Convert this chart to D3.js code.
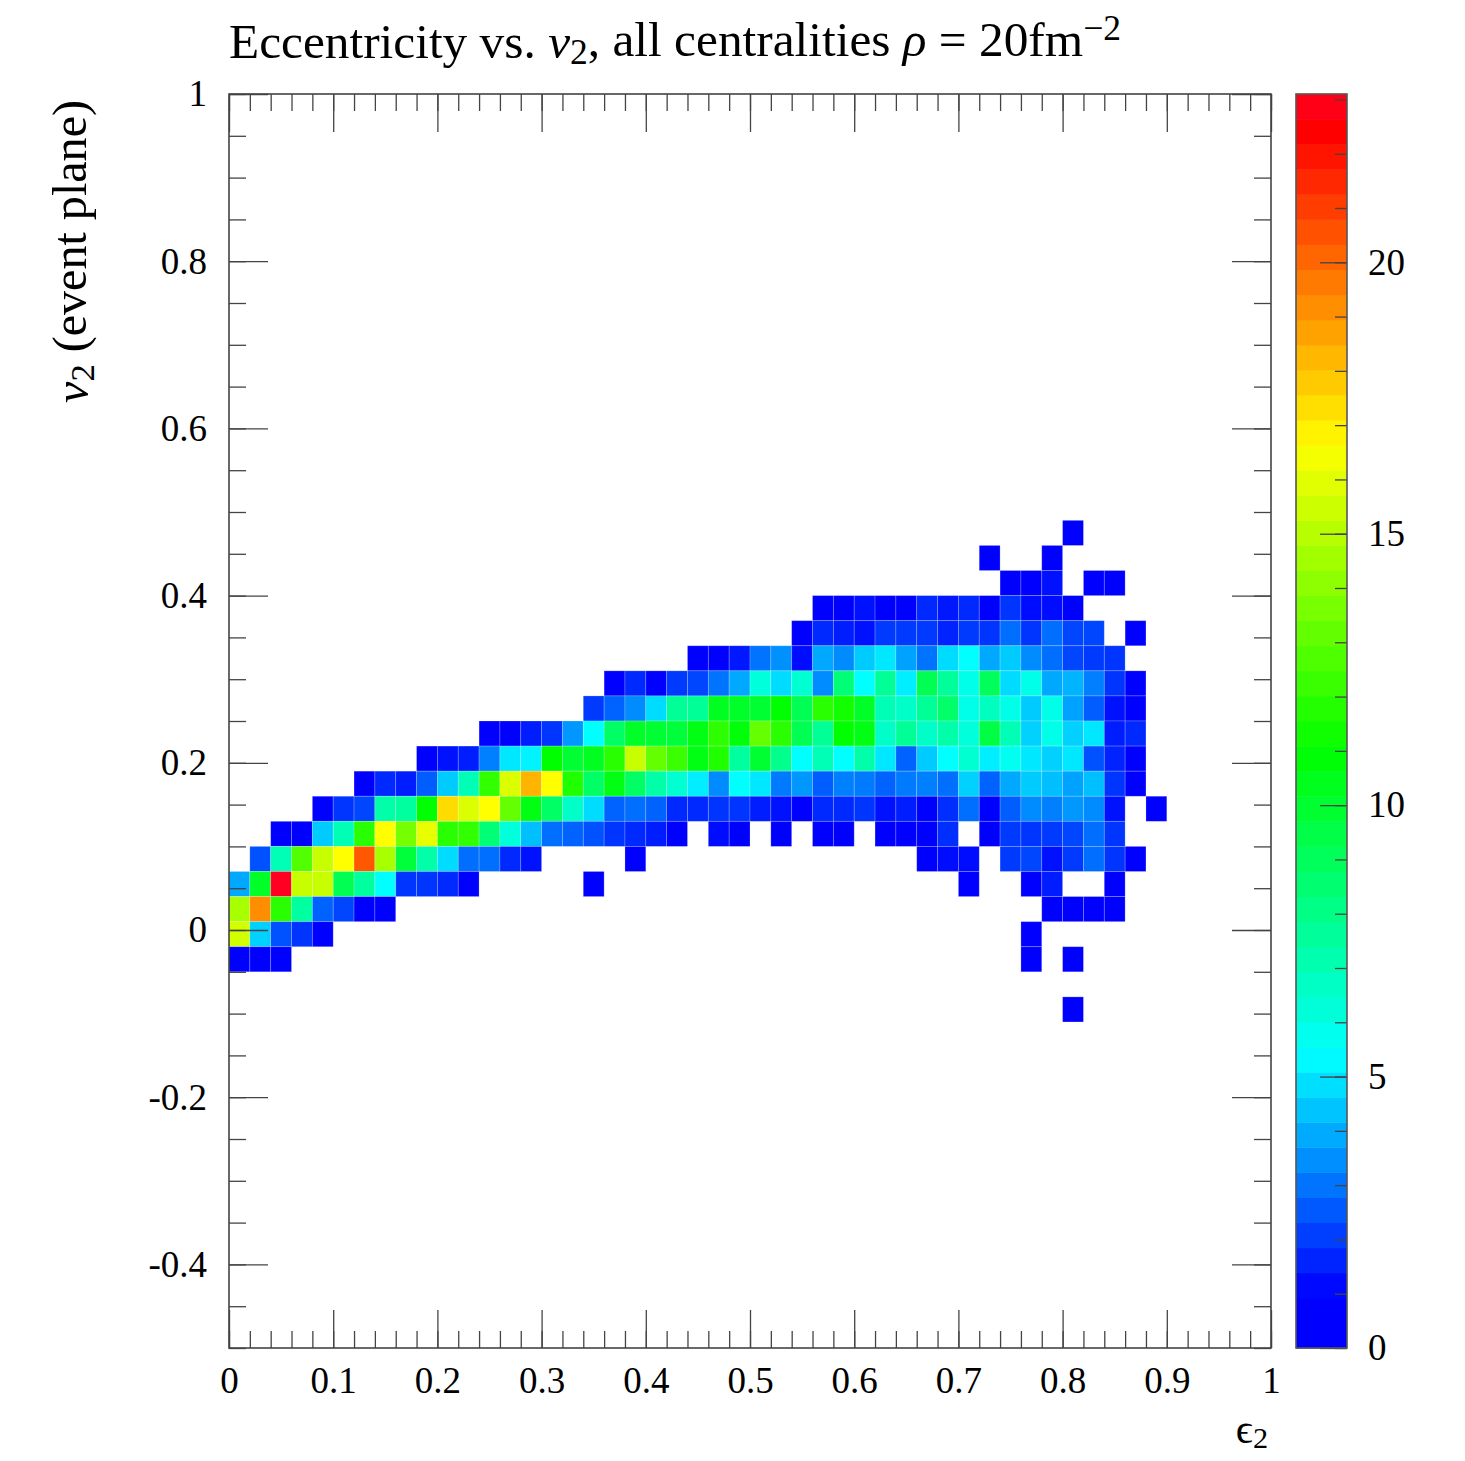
<!DOCTYPE html>
<html><head><meta charset="utf-8">
<script src="https://cdn.jsdelivr.net/npm/d3@7"></script>
<style>
body{margin:0;background:#fff}
svg{display:block}
text{font-family:"Liberation Serif","DejaVu Serif",serif;fill:#000}
</style>
</head><body>
<svg id="chart" width="1465" height="1461"></svg>
<script>
// ---------- data ----------
const xTicks = [0,0.1,0.2,0.3,0.4,0.5,0.6,0.7,0.8,0.9,1];
const xTickLabels = ["0","0.1","0.2","0.3","0.4","0.5","0.6","0.7","0.8","0.9","1"];
const yTicks = [-0.4,-0.2,0,0.2,0.4,0.6,0.8,1];
const yTickLabels = ["-0.4","-0.2","0","0.2","0.4","0.6","0.8","1"];
const zTicks = [0,5,10,15,20];
const zTickLabels = ["0","5","10","15","20"];
const xBinWidth = 0.02;   // eps2 bin width
const yBinWidth = 0.03;   // v2 bin width
const zMax = 23.1;

// histogram row segments: v2 bin lower edge, eps2 lower edge of first bin, counts
const segV2 = [0.46,0.43,0.43,0.40,0.40,0.37,0.34,0.34,0.31,0.28,0.25,0.22,0.19,0.16,0.13,0.13,
  0.10,0.10,0.10,0.10,0.10,0.10,0.07,0.07,0.07,0.07,0.04,0.04,0.04,0.04,0.04,0.01,0.01,-0.02,-0.02,-0.05,-0.05,-0.11];
const segEps2 = [0.80,0.72,0.78,0.74,0.82,0.56,0.54,0.86,0.44,0.36,0.34,0.24,0.18,0.12,0.08,0.88,
  0.04,0.46,0.52,0.56,0.62,0.72,0.02,0.38,0.66,0.74,0,0.34,0.70,0.76,0.84,0,0.78,0,0.76,0,0.76,0.80];
const segCounts = [
  [1],
  [1],
  [1],
  [1,1,1.3],
  [1,1],
  [1,1,1.3,1,1,1.7,1.4,1.7,1,1.9,1.2,1.2,1],
  [1,1.7,1.5,1.3,2,2,2,1.6,2,1.9,2.9,1.9,2.9,2.2,2.2],
  [1],
  [1,1,1.4,3,3.5,1.2,3.9,3.4,4.5,5,3.8,3,4.8,5.4,3.9,4.5,3.4,2.9,2.2,2,1.9],
  [1,1.7,1,2,2.2,3,3.9,6.2,4.8,6.4,3.4,8.4,5.4,7.7,5.1,9.2,7.6,5.9,9,4.8,5.9,3.9,4.1,3.2,1.9,1],
  [2,2.7,3.4,4.8,7.7,7.7,10.3,10.1,9.9,11,9.2,11.9,11.4,10.1,7,6.6,7.7,8.7,5.9,6.8,5.9,4.5,5.9,3.8,2.6,1.3,1],
  [1,1,1.5,1.9,3.6,5.4,8.8,10.1,9.9,9.7,10.6,12,10.8,13.2,11.9,9.2,7.7,11,10.6,6.6,7.7,6.6,7.3,6.2,9.5,7,4.6,5.9,4.6,5,1.5,1.7],
  [1,1.3,1.5,3.2,5,5.2,11,9.9,10.3,11.9,15.4,13.2,12.3,10.6,11.7,7.5,9.9,7.9,5.4,7,5.4,7.3,5,2.7,4.5,5.4,6.4,5.1,5.7,5,4.6,5,2.4,1.6,1],
  [1,1.7,1.5,2.6,4.5,7,12.1,15.8,18.3,16.6,11.7,8.8,10.6,8.8,7.3,6.4,5.1,3.4,5.4,5,3.1,3.6,2.6,3.2,3.1,2.7,3.1,3.2,2.9,4.6,2.7,3.9,4.5,4.3,3.8,4.3,1.9,1],
  [1,1.9,2.2,7.3,7.5,11,17.4,15.8,16.6,13.2,10.6,8.8,6.6,4.8,2.7,2.9,2.7,1.7,1.7,1.9,1.9,1.5,1.3,1,1.7,1.7,1.9,1.3,1.5,1,1.8,2.9,1,2.6,3.4,3.2,3.6,3.4,1.3],
  [1],
  [1,1,4.5,7,11.9,16.6,13.6,16.1,11.9,12.1,8.4,6.2,4.3,2.9,2.7,2.4,1.9,1.7,1.5,1],
  [1.2,1],
  [1],
  [1,1],
  [1,1,1,1.8],
  [1,2,1.9,2,2.2,2.9,1.9],
  [2.4,7,12.8,15.4,16.6,20.4,14.7,9.7,7.3,4.8,2.9,2.9,1.7,1.3],
  [1],
  [1,1.2,1.2],
  [2,2.2,1.3,2,2.9,1.9,1],
  [3.9,10.1,23.1,15.4,15.4,9.2,7.5,5.4,1.9,1.9,1.7,1],
  [1],
  [1],
  [1,1.5],
  [1],
  [14.7,19.2,11.9,7.5,2.7,2.2,1,1],
  [1,1,1,1],
  [15.6,4.6,2.4,1.9,1],
  [1],
  [1,1,1],
  [1,0,1],
  [1]
];

// ---------- layout ----------
const svg = d3.select("#chart");
const L = 229, R = 1271, T = 94, B = 1348;
const x = d3.scaleLinear().domain([0,1]).range([L,R]);
const y = d3.scaleLinear().domain([-0.5,1]).range([B,T]);
const z = d3.scaleLinear().domain([0,zMax]).range([B,T]);
const hue = d3.scaleLinear().domain([1,5.4,11,16.6,22.4,23.1]).range([240,180,120,60,0,-8]).clamp(true);
const color = v => d3.hsl((hue(v)+360)%360, 1, 0.5).formatRgb();

// cells
const cells = [];
segCounts.forEach((arr,s) => {
  arr.forEach((c,k) => {
    if (c > 0) cells.push({e: segEps2[s] + k*xBinWidth, v: segV2[s], c});
  });
});
svg.append("g").selectAll("rect").data(cells).join("rect")
  .attr("x", d => x(d.e))
  .attr("y", d => y(d.v + yBinWidth))
  .attr("width", d => x(d.e + xBinWidth) - x(d.e))
  .attr("height", d => y(d.v) - y(d.v + yBinWidth))
  .attr("fill", d => color(d.c))
  .attr("stroke", "rgba(255,255,255,0.25)")
  .attr("stroke-width", 0.8);

// axes
const tickColor = "#444";
function styleAxis(g){
  g.select(".domain").remove();
  g.selectAll(".tick line").attr("stroke", tickColor).attr("stroke-width", 1.3);
  g.selectAll(".tick text").attr("font-family", '"Liberation Serif","DejaVu Serif",serif').attr("font-size", 37).attr("fill", "#000");
}
const xMinor = d3.range(0, 1.0001, 0.02);
const yMinor = d3.range(-0.5, 1.0001, 0.05);
const zMinor = d3.range(0, 23.01, 1);

// bottom
svg.append("g").attr("transform", `translate(0,${B})`)
  .call(d3.axisBottom(x).tickValues(xMinor).tickSize(-17).tickFormat("")).call(styleAxis);
svg.append("g").attr("transform", `translate(0,${B})`)
  .call(d3.axisBottom(x).tickValues(xTicks).tickSize(-38).tickPadding(19).tickFormat((d,i)=>xTickLabels[i])).call(styleAxis);
// top
svg.append("g").attr("transform", `translate(0,${T})`)
  .call(d3.axisTop(x).tickValues(xMinor).tickSize(-17).tickFormat("")).call(styleAxis);
svg.append("g").attr("transform", `translate(0,${T})`)
  .call(d3.axisTop(x).tickValues(xTicks).tickSize(-38).tickFormat("")).call(styleAxis);
// left
svg.append("g").attr("transform", `translate(${L},0)`)
  .call(d3.axisLeft(y).tickValues(yMinor).tickSize(-17).tickFormat("")).call(styleAxis);
svg.append("g").attr("transform", `translate(${L},0)`)
  .call(d3.axisLeft(y).tickValues(yTicks).tickSize(-39).tickPadding(22).tickFormat((d,i)=>yTickLabels[i])).call(styleAxis);
// right
svg.append("g").attr("transform", `translate(${R},0)`)
  .call(d3.axisRight(y).tickValues(yMinor).tickSize(-17).tickFormat("")).call(styleAxis);
svg.append("g").attr("transform", `translate(${R},0)`)
  .call(d3.axisRight(y).tickValues(yTicks).tickSize(-39).tickFormat("")).call(styleAxis);

// frame
svg.append("rect").attr("x", L).attr("y", T).attr("width", R-L).attr("height", B-T)
  .attr("fill", "none").attr("stroke", "#444").attr("stroke-width", 1.6);

// color bar
const CL = 1296, CR = 1347, nBands = 50;
const bands = d3.range(nBands).map(b => ({z0: b*zMax/nBands, z1: (b+1)*zMax/nBands}));
svg.append("g").selectAll("rect").data(bands).join("rect")
  .attr("x", CL).attr("width", CR-CL)
  .attr("y", d => z(d.z1)).attr("height", d => z(d.z0) - z(d.z1) + 0.5)
  .attr("fill", d => color((d.z0+d.z1)/2));
svg.append("g").attr("transform", `translate(${CR},0)`)
  .call(d3.axisRight(z).tickValues(zMinor).tickSize(-12).tickFormat("")).call(styleAxis);
svg.append("g").attr("transform", `translate(${CR},0)`)
  .call(d3.axisRight(z).tickValues(zTicks).tickSize(-27).tickPadding(21).tickFormat((d,i)=>zTickLabels[i])).call(styleAxis);
svg.append("rect").attr("x", CL).attr("y", T).attr("width", CR-CL).attr("height", B-T)
  .attr("fill", "none").attr("stroke", "#555").attr("stroke-width", 1.6);

// fit a text element to a target width by scaling its font size
function fitWidth(sel, target){
  const w = sel.node().getComputedTextLength();
  const fs = parseFloat(sel.attr("font-size"));
  if (w > 0) sel.attr("font-size", fs * target / w);
}

// title
const title = svg.append("text").attr("x", L).attr("y", 58).attr("font-size", 48);
title.append("tspan").text("Eccentricity vs. ");
title.append("tspan").attr("font-style", "italic").text("v");
title.append("tspan").attr("font-size", "72%").attr("dy", "0.18em").text("2");
title.append("tspan").attr("dy", "-0.18em").text(", all centralities ");
title.append("tspan").attr("font-style", "italic").text("ρ");
title.append("tspan").text(" = 20fm");
title.append("tspan").attr("font-size", "72%").attr("dy", "-0.45em").text("−2");
fitWidth(title, 892);

// y axis title
const yt = svg.append("text").attr("transform", "translate(88,100) rotate(-90)")
  .attr("text-anchor", "end").attr("font-size", 46);
yt.append("tspan").attr("font-style", "italic").text("v");
yt.append("tspan").attr("font-size", "72%").attr("dy", "0.18em").text("2");
yt.append("tspan").attr("dy", "-0.18em").text(" (event plane)");
fitWidth(yt, 303);

// x axis title
const xt = svg.append("text").attr("x", 1268).attr("y", 1443).attr("text-anchor", "end").attr("font-size", 42);
xt.append("tspan").text("ϵ");
xt.append("tspan").attr("font-size", "72%").attr("dy", "0.18em").text("2");
</script>
</body></html>
